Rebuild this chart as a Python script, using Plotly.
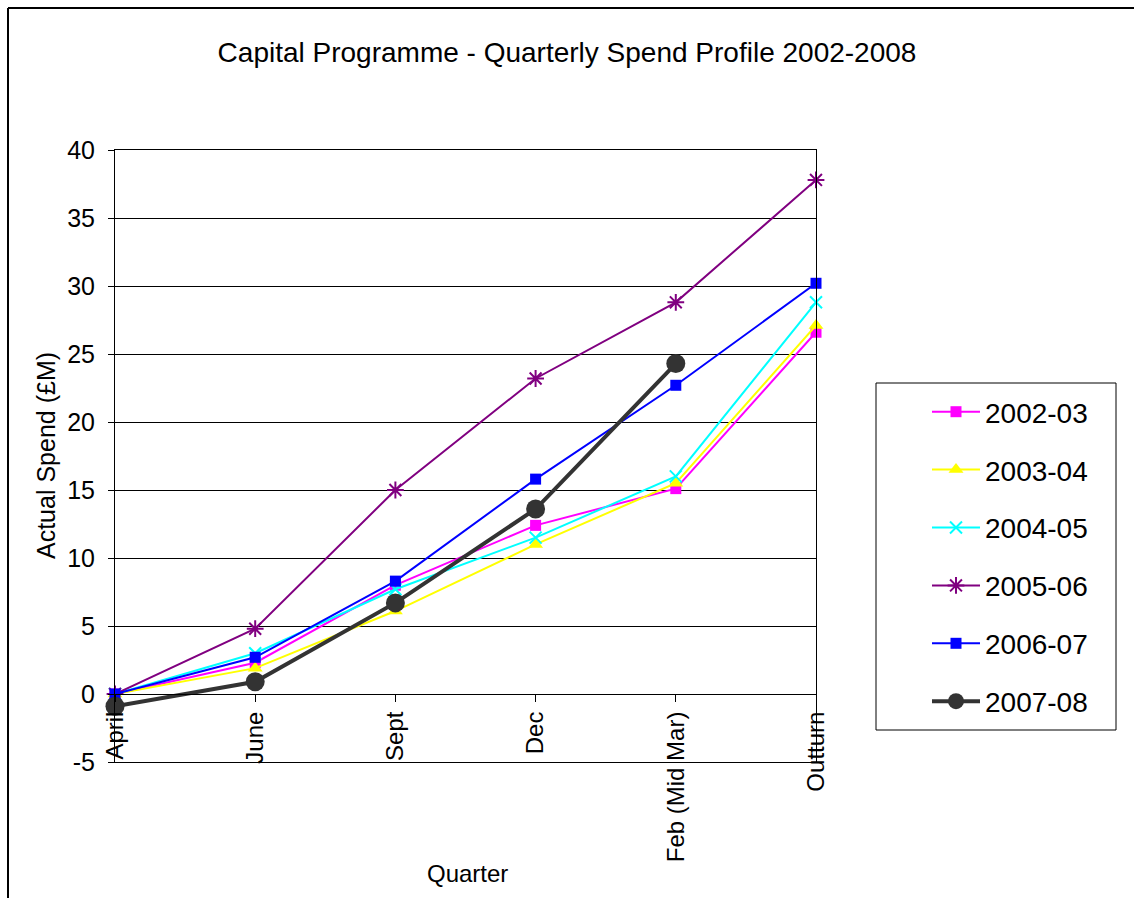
import plotly.graph_objects as go

quarters = ["April", "June", "Sept", "Dec", "Feb (Mid Mar)", "Outturn"]
x_pos = [0, 1, 2, 3, 4, 5]

s2002_03 = [0.0, 2.3, 8.0, 12.4, 15.1, 26.6]
s2003_04 = [0.0, 1.9, 6.1, 11.0, 15.5, 27.1]
s2004_05 = [0.0, 3.0, 7.7, 11.5, 16.0, 28.8]
s2005_06 = [0.0, 4.8, 15.0, 23.2, 28.8, 37.8]
s2006_07 = [0.0, 2.7, 8.3, 15.8, 22.7, 30.2]
s2007_08 = [-0.9, 0.9, 6.7, 13.6, 24.3, None]

y_ticks = [-5, 0, 5, 10, 15, 20, 25, 30, 35, 40]
y_tick_labels = [str(v) for v in y_ticks]
y_min, y_max = -5, 40

FONT = "Liberation Sans, Arial, sans-serif"

series = [
    ("2002-03", s2002_03, "#FF00FF", "square", 11, 2),
    ("2003-04", s2003_04, "#FFFF00", "triangle-up", 13, 2),
    ("2004-05", s2004_05, "#00FFFF", "x-thin", 12, 2),
    ("2005-06", s2005_06, "#800080", "asterisk", 14, 2),
    ("2006-07", s2006_07, "#0000FF", "square", 11, 2),
    ("2007-08", s2007_08, "#333333", "circle", 19, 4),
]

fig = go.Figure()
for name, vals, col, sym, size, lw in series:
    fig.add_trace(go.Scatter(
        x=x_pos, y=vals, name=name, mode="lines+markers",
        line=dict(color=col, width=lw),
        marker=dict(symbol=sym, size=size, color=col,
                    line=dict(color=col, width=2 if sym in ("x-thin", "asterisk") else 0)),
        cliponaxis=False, legendgroup=name,
    ))

W, H = 1134, 898
L, R, T, B = 115, 318, 150, 136
pw, ph = W - L - R, H - T - B

def px(xp):
    return (xp - L) / pw

def py(yp):
    return (H - B - yp) / ph

fig.update_layout(
    width=W, height=H, autosize=False,
    margin=dict(l=L, r=R, t=T, b=B),
    paper_bgcolor="white", plot_bgcolor="white",
    font=dict(family=FONT, color="black"),
    title=dict(text="Capital Programme - Quarterly Spend Profile 2002-2008",
               x=0.5, xref="container", xanchor="center",
               y=1 - 52 / H, yref="container", yanchor="middle",
               font=dict(size=28, family=FONT, color="black")),
    xaxis=dict(range=[0, 5], tickvals=x_pos, ticktext=quarters, tickangle=-90,
               showgrid=False, zeroline=False, showline=True, linecolor="black",
               linewidth=1, ticks="outside", ticklen=7, tickcolor="black",
               anchor="free", position=(0 - y_min) / (y_max - y_min),
               tickfont=dict(size=24, family=FONT, color="black")),
    xaxis2=dict(range=[0, 5], overlaying="x", anchor="y", side="bottom",
                showgrid=False, zeroline=False, showline=True, mirror=True,
                linecolor="black", linewidth=1, ticks="", showticklabels=False),
    yaxis=dict(range=[y_min, y_max], tickvals=y_ticks, ticktext=y_tick_labels,
               showgrid=True, gridcolor="black", gridwidth=1, zeroline=False,
               showline=True, mirror=True, linecolor="black", linewidth=1,
               ticks="outside", ticklen=6, tickcolor="black", ticklabelstandoff=8,
               tickfont=dict(size=25, family=FONT, color="black")),
    legend=dict(x=px(927), y=py(387), xanchor="left", yanchor="top",
                bgcolor="rgba(0,0,0,0)", borderwidth=0,
                font=dict(size=28, family=FONT, color="black"),
                tracegroupgap=18.5, itemwidth=48),
    showlegend=True,
)

# dummy trace on the second x axis to draw the plot-area frame
fig.add_trace(go.Scatter(x=[None], y=[None], xaxis="x2", yaxis="y",
                         showlegend=False, hoverinfo="skip"))

# Legend frame and outer chart frame
fig.add_shape(type="rect", xref="paper", yref="paper",
              x0=px(876), x1=px(1116), y0=py(730), y1=py(383),
              line=dict(color="black", width=1), fillcolor="rgba(0,0,0,0)")
fig.add_shape(type="line", xref="paper", yref="paper",
              x0=px(8), x1=px(1134), y0=py(8), y1=py(8),
              line=dict(color="black", width=2))
fig.add_shape(type="line", xref="paper", yref="paper",
              x0=px(8), x1=px(8), y0=py(8), y1=py(898),
              line=dict(color="black", width=2))

# Axis titles
fig.add_annotation(text="Actual Spend (£M)", xref="paper", yref="paper",
                   x=px(46), y=0.5, textangle=-90, showarrow=False,
                   xanchor="center", yanchor="middle",
                   font=dict(size=25, family=FONT, color="black"))
fig.add_annotation(text="Quarter", xref="paper", yref="paper",
                   x=px(467), y=py(873), showarrow=False,
                   xanchor="center", yanchor="middle",
                   font=dict(size=24, family=FONT, color="black"))

fig.write_html("out.html")
